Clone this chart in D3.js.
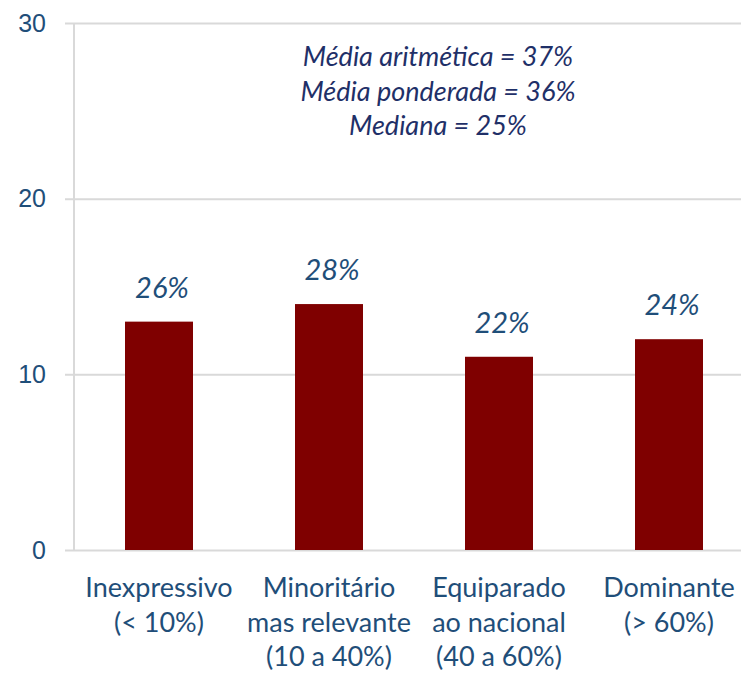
<!DOCTYPE html>
<html>
<head>
<meta charset="utf-8">
<script src="https://cdn.jsdelivr.net/npm/d3@7"></script>
<style>
  body { margin: 0; background: #fff; }
  svg { display: block; font-family: Lato, "Open Sans", sans-serif; }
</style>
</head>
<body>
<svg width="741" height="674"></svg>
<script>
const categories = [
  ["Inexpressivo", "(< 10%)"],
  ["Minoritário", "mas relevante", "(10 a 40%)"],
  ["Equiparado", "ao nacional", "(40 a 60%)"],
  ["Dominante", "(> 60%)"]
];
const values = [13, 14, 11, 12];
const barLabels = ["26%", "28%", "22%", "24%"];
const yTicks = [0, 10, 20, 30];
const notes = ["Média aritmética = 37%", "Média ponderada = 36%", "Mediana = 25%"];

const svg = d3.select("svg");
const plotLeft = 74, plotRight = 754, plotTop = 23, plotBottom = 550;
const textColor = "#1f4e79";
const noteColor = "#1f3068";

const x = d3.scaleBand()
  .domain(d3.range(categories.length))
  .range([plotLeft, plotRight])
  .paddingInner(0.6)
  .paddingOuter(0.3);

const y = d3.scaleLinear().domain([0, 30]).range([plotBottom, plotTop]);

// grid + y axis
const yAxis = d3.axisLeft(y)
  .tickValues(yTicks)
  .tickSize(-(plotRight - plotLeft))
  .tickPadding(28)
  .tickFormat(d3.format("d"));

const gY = svg.append("g")
  .attr("transform", `translate(${plotLeft},0)`)
  .call(yAxis);
gY.select(".domain").remove();
gY.selectAll(".tick line")
  .attr("x1", -9)
  .attr("stroke", "#d9d9d9")
  .attr("stroke-width", 2);
gY.selectAll(".tick text")
  .attr("fill", textColor)
  .attr("font-size", 25);

svg.append("line")
  .attr("x1", plotLeft).attr("x2", plotLeft)
  .attr("y1", y(30)).attr("y2", y(0))
  .attr("stroke", "#d9d9d9")
  .attr("stroke-width", 2);

// bars
svg.selectAll("rect.bar")
  .data(values)
  .enter()
  .append("rect")
  .attr("class", "bar")
  .attr("x", (d, i) => x(i))
  .attr("y", d => y(d))
  .attr("width", x.bandwidth())
  .attr("height", d => y(0) - y(d))
  .attr("fill", "#7f0000");

// bar labels
svg.selectAll("text.val")
  .data(values)
  .enter()
  .append("text")
  .attr("class", "val")
  .attr("x", (d, i) => x(i) + x.bandwidth() / 2 + 3)
  .attr("y", d => y(d) - 24)
  .attr("text-anchor", "middle")
  .attr("font-size", 29)
  .attr("font-style", "italic")
  .attr("fill", textColor)
  .text((d, i) => barLabels[i]);

// category labels
categories.forEach((lines, i) => {
  const t = svg.append("text")
    .attr("x", x(i) + x.bandwidth() / 2)
    .attr("y", 597)
    .attr("text-anchor", "middle")
    .attr("font-size", 27)
    .attr("fill", textColor);
  lines.forEach((s, j) => {
    t.append("tspan")
      .attr("x", x(i) + x.bandwidth() / 2)
      .attr("dy", j === 0 ? 0 : 34.5)
      .text(s);
  });
});

// notes
svg.selectAll("text.note")
  .data(notes)
  .enter()
  .append("text")
  .attr("class", "note")
  .attr("x", 438)
  .attr("y", (d, i) => 66 + i * 34.5)
  .attr("text-anchor", "middle")
  .attr("font-size", 27)
  .attr("font-style", "italic")
  .attr("fill", noteColor)
  .text(d => d);
</script>
</body>
</html>
